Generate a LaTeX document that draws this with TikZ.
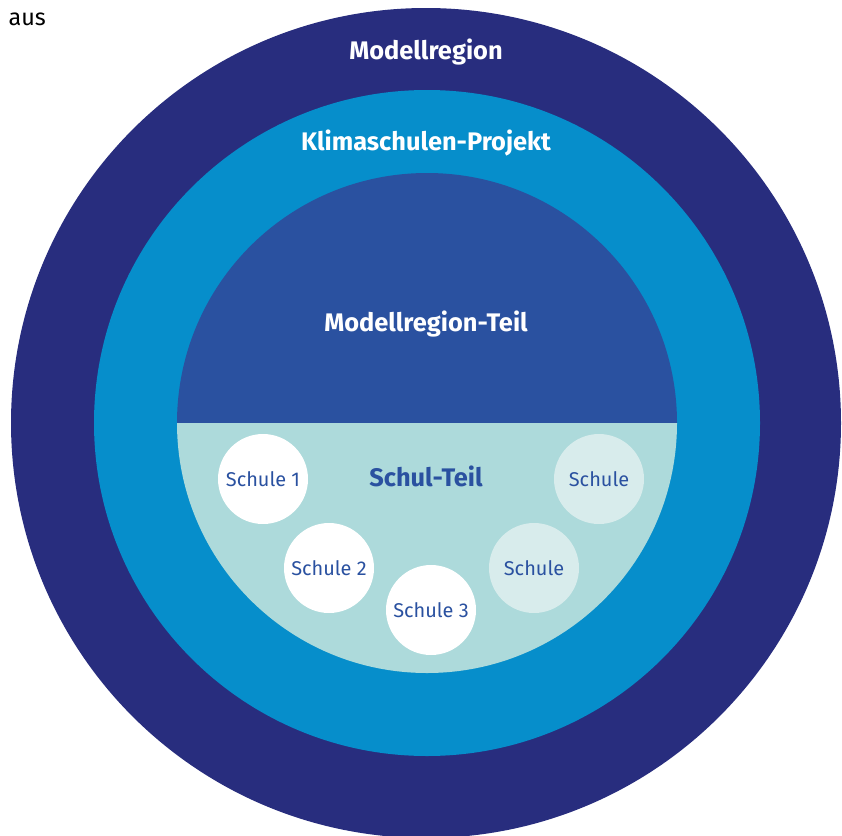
\documentclass[tikz,border=0pt]{standalone}
\usepackage{fontspec}
\setmainfont{Fira Sans}
\definecolor{outerc}{HTML}{282D7E}
\definecolor{midc}{HTML}{068ECB}
\definecolor{innerc}{HTML}{2A51A0}
\definecolor{tealc}{HTML}{ADDADB}
\definecolor{palec}{HTML}{D8ECEC}
\tikzset{
  ringlabel/.style={text=white,font=\fontsize{25.5}{30}\selectfont\bfseries},
  school/.style={circle,minimum size=90bp,inner sep=0pt,text=innerc,font=\fontsize{20}{24}\selectfont},
  done/.style={school,fill=white},
  open/.style={school,fill=palec},
}
\begin{document}
\begin{tikzpicture}[x=1bp,y=-1bp]
\useasboundingbox (0,0) rectangle (842,836);
\fill[outerc] (426,423) circle[radius=415];
\fill[midc] (427,423) circle[radius=333];
\fill[innerc] (177,423) arc[start angle=180,end angle=360,radius=250] -- cycle;
\fill[tealc] (177,423) arc[start angle=180,end angle=0,radius=250] -- cycle;
\node[anchor=west,font=\fontsize{23.5}{28}\selectfont] (aus) at (5,19) {aus};
\node[ringlabel] (modreg) at (426,52) {Modellregion};
\node[ringlabel] (klima) at (426,143) {Klimaschulen-Projekt};
\node[ringlabel] (modteil) at (426,324) {Modellregion-Teil};
\node[ringlabel,text=innerc] (schulteil) at (426,476) {Schul-Teil};
\node[done] (s1) at (263,479) {Schule 1};
\node[done] (s2) at (329,568) {Schule 2};
\node[done] (s3) at (431,610) {Schule 3};
\node[open] (s4) at (534,568) {Schule};
\node[open] (s5) at (599,479) {Schule};
\end{tikzpicture}
\end{document}
